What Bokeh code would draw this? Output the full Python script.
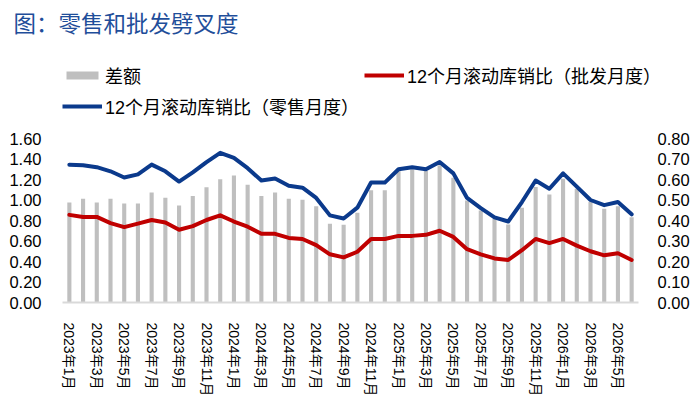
from bokeh.plotting import figure
from bokeh.layouts import column
from bokeh.models import (Range1d, LinearAxis, FixedTicker, NumeralTickFormatter,
                          Legend, LegendItem, Label, ColumnDataSource)
from bokeh.embed import file_html
from bokeh.resources import INLINE

# ---------------- data ----------------
tick_labels = ["2023年1月", "2023年3月", "2023年5月", "2023年7月", "2023年9月", "2023年11月",
               "2024年1月", "2024年3月", "2024年5月", "2024年7月", "2024年9月", "2024年11月",
               "2025年1月", "2025年3月", "2025年5月", "2025年7月", "2025年9月", "2025年11月",
               "2026年1月", "2026年3月", "2026年5月"]

retail = [1.345, 1.34, 1.32, 1.28, 1.22, 1.25, 1.345, 1.28, 1.18, 1.27, 1.37, 1.46,
          1.41, 1.31, 1.19, 1.21, 1.14, 1.12, 1.02, 0.85, 0.82, 0.925, 1.17, 1.17,
          1.30, 1.32, 1.30, 1.37, 1.26, 1.02, 0.92, 0.83, 0.79, 0.98, 1.19, 1.11,
          1.26, 1.13, 1.00, 0.95, 0.98, 0.86]

wholesale = [0.855, 0.835, 0.835, 0.775, 0.735, 0.77, 0.805, 0.78, 0.71, 0.745, 0.805, 0.85,
             0.79, 0.74, 0.67, 0.67, 0.63, 0.62, 0.56, 0.47, 0.44, 0.495, 0.62, 0.62,
             0.65, 0.65, 0.66, 0.70, 0.64, 0.52, 0.47, 0.43, 0.415, 0.51, 0.62, 0.58,
             0.62, 0.555, 0.50, 0.46, 0.48, 0.415]

spread = [0.488, 0.506, 0.488, 0.506, 0.483, 0.483, 0.537, 0.511, 0.473, 0.519, 0.562, 0.601,
          0.620, 0.575, 0.519, 0.537, 0.506, 0.501, 0.469, 0.384, 0.379, 0.438, 0.547, 0.547,
          0.642, 0.650, 0.642, 0.669, 0.609, 0.498, 0.449, 0.408, 0.380, 0.462, 0.563, 0.527,
          0.604, 0.555, 0.490, 0.457, 0.469, 0.416]

title_text = "图：零售和批发劈叉度"
name_spread = "差额"
name_wholesale = "12个月滚动库销比（批发月度）"
name_retail = "12个月滚动库销比（零售月度）"

# ---------------- styles ----------------
FONT = "Liberation Sans, Noto Sans CJK SC"
GRAY = "#BFBFBF"
RED = "#C00000"
BLUE = "#0B3A8C"
W = 692
H_TOTAL = 410
HEAD_H = 128

# ---------------- header (title + legend) ----------------
head = figure(width=W, height=HEAD_H, output_backend="svg", toolbar_location=None,
              x_range=Range1d(0, 1), y_range=Range1d(0, 1),
              x_axis_location=None, y_axis_location=None,
              min_border=0, min_border_left=0, min_border_right=0,
              min_border_top=0, min_border_bottom=0)
head.frame_align = False
head.grid.visible = False
head.outline_line_color = None

off_bar = ColumnDataSource(dict(x=[-5], y=[-5]))
off_line = ColumnDataSource(dict(x=[-5, -4], y=[-5, -5]))
lg_bar = head.vbar(x="x", top="y", width=0.3, source=off_bar, fill_color=GRAY, line_color=None)
lg_red = head.line("x", "y", source=off_line, line_color=RED, line_width=4)
lg_blue = head.line("x", "y", source=off_line, line_color=BLUE, line_width=4)

legend = Legend(items=[LegendItem(label=name_spread, renderers=[lg_bar]),
                       LegendItem(label=name_retail, renderers=[lg_blue]),
                       LegendItem(label=name_wholesale, renderers=[lg_red])],
                ncols=2, location=(62, HEAD_H - 119), padding=0, margin=0, spacing=5,
                glyph_width=40, glyph_height=10, label_height=26, label_width=242,
                label_standoff=3,
                label_text_font=FONT, label_text_font_size="18px", label_text_color="#000000",
                background_fill_alpha=0, border_line_alpha=0)
head.add_layout(legend)

head.add_layout(Label(x=13, y=HEAD_H - 21, x_units="screen", y_units="screen", text=title_text,
                      text_font="Noto Sans CJK SC", text_font_size="22.5px", text_color="#1F4E9A",
                      text_baseline="middle", text_align="left"))

# ---------------- main chart ----------------
x = list(range(len(retail)))
src = ColumnDataSource(dict(x=x, retail=retail, wholesale=wholesale, spread=spread))

p = figure(width=W, height=H_TOTAL - HEAD_H, output_backend="svg", toolbar_location=None,
           x_range=Range1d(-0.5, len(retail) - 0.5), y_range=Range1d(0, 1.6),
           min_border_left=62, min_border_right=W - 638, min_border_top=10, min_border_bottom=108)
p.frame_align = False
p.extra_y_ranges = {"right": Range1d(0, 0.8)}
p.outline_line_color = None
p.xgrid.visible = False
p.ygrid.visible = False

p.vbar(x="x", top="spread", width=0.3, source=src, y_range_name="right",
       fill_color=GRAY, line_color=None)
p.line("x", "wholesale", source=src, line_color=RED, line_width=4,
       line_join="round", line_cap="round")
p.line("x", "retail", source=src, line_color=BLUE, line_width=4,
       line_join="round", line_cap="round")

yl = p.yaxis[0]
yl.ticker = FixedTicker(ticks=[i * 0.2 for i in range(9)])
yl.formatter = NumeralTickFormatter(format="0.00")
yr = LinearAxis(y_range_name="right", ticker=FixedTicker(ticks=[i * 0.1 for i in range(9)]),
                formatter=NumeralTickFormatter(format="0.00"))
p.add_layout(yr, "right")
for ax in (yl, yr):
    ax.axis_line_color = None
    ax.major_tick_line_color = None
    ax.minor_tick_line_color = None
    ax.major_label_text_font = FONT
    ax.major_label_text_font_size = "16.5px"
    ax.major_label_text_color = "#000000"
yl.major_label_standoff = 15
yr.major_label_standoff = 13

xa = p.xaxis[0]
xa.ticker = FixedTicker(ticks=list(range(0, len(retail), 2))[:len(tick_labels)])
xa.major_label_overrides = {2 * i: lab for i, lab in enumerate(tick_labels)}
xa.major_label_orientation = "vertical"
xa.axis_line_color = "#D9D9D9"
xa.axis_line_width = 2
xa.major_tick_line_color = None
xa.minor_tick_line_color = None
xa.major_label_text_font = FONT
xa.major_label_text_font_size = "14px"
xa.major_label_text_color = "#000000"
xa.major_label_standoff = 14

layout = column(head, p, spacing=0)
open("out.html", "w").write(file_html(layout, INLINE))
